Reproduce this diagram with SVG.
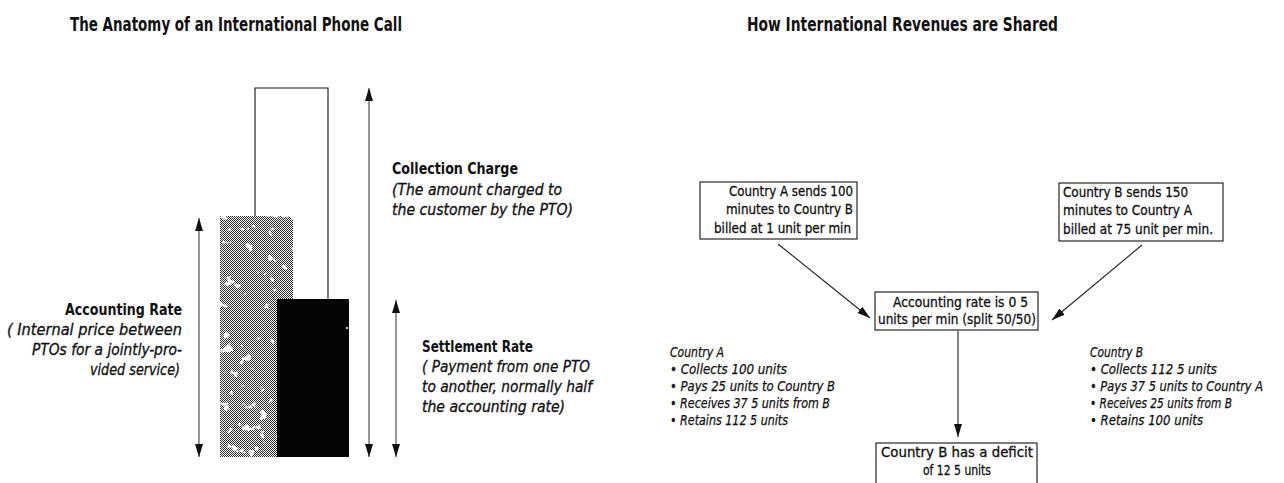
<svg xmlns="http://www.w3.org/2000/svg" width="1284" height="483" viewBox="0 0 1284 483">
  <style>
    text { font-family: "Liberation Sans Narrow", "DejaVu Sans Condensed", "Liberation Sans", sans-serif; fill: #111; }
    .title { font-size: 20px; font-weight: bold; }
    .head { font-size: 15.5px; font-weight: bold; }
    .note { font-size: 15px; font-style: italic; stroke: #111; stroke-width: 0.3; }
    .box { font-size: 14.5px; stroke: #111; stroke-width: 0.3; }
    .list { font-size: 14px; font-style: italic; stroke: #111; stroke-width: 0.25; }
    .frame { fill: #fff; stroke: #111; stroke-width: 1.1; }
    .dim { stroke: #333; stroke-width: 1; fill: none; marker-start: url(#tip); marker-end: url(#tip); }
    .flow { stroke: #222; stroke-width: 1.1; fill: none; marker-end: url(#tip); }
  </style>
  <defs>
    <marker id="tip" viewBox="0 0 13 8" refX="13" refY="4" markerWidth="13" markerHeight="8" markerUnits="userSpaceOnUse" orient="auto-start-reverse">
      <path d="M0,0 L13,4 L0,8 z" fill="#111"/>
    </marker>
    <!-- halftone screen for the shaded bar -->
    <pattern id="screen" width="2" height="2" patternUnits="userSpaceOnUse">
      <rect width="2" height="2" fill="#fff"/>
      <rect width="1" height="1" fill="#2a2a2a"/>
      <rect x="1" y="1" width="1" height="1" fill="#2a2a2a"/>
    </pattern>
    <!-- knocks a few irregular white specks out of the halftone -->
    <filter id="mottle" x="0" y="0" width="100%" height="100%">
      <feTurbulence type="fractalNoise" baseFrequency="0.09" numOctaves="3" seed="7" result="noise"/>
      <feColorMatrix in="noise" type="matrix" values="0 0 0 0 0  0 0 0 0 0  0 0 0 0 0  16 0 0 0 -4.4" result="keep"/>
      <feComposite in="SourceGraphic" in2="keep" operator="in"/>
    </filter>
  </defs>

  <!-- titles -->
  <text class="title" x="70" y="31" textLength="332" lengthAdjust="spacingAndGlyphs">The Anatomy of an International Phone Call</text>
  <text class="title" x="747" y="31" textLength="311" lengthAdjust="spacingAndGlyphs">How International Revenues are Shared</text>

  <!-- left: bar chart of the call price -->
  <g id="accounting-bar">
    <rect x="220" y="216" width="73" height="241" fill="url(#screen)" filter="url(#mottle)"/>
  </g>
  <g id="collection-bar">
    <polyline points="255,216 255,88 328,88 328,299" fill="none" stroke="#111" stroke-width="1.1"/>
  </g>
  <g id="settlement-bar">
    <rect x="277" y="299" width="72" height="158" fill="#050505"/>
    <circle cx="347" cy="328" r="1" fill="#fff"/>
  </g>

  <g id="dimension-arrows">
    <line class="dim" x1="199" y1="218" x2="199" y2="457"/>
    <line class="dim" x1="369" y1="88" x2="369" y2="457"/>
    <line class="dim" x1="396" y1="300" x2="396" y2="457"/>
  </g>

  <g id="accounting-label" text-anchor="end">
    <text class="head" x="182" y="315" textLength="117" lengthAdjust="spacingAndGlyphs">Accounting Rate</text>
    <text class="note" x="182" y="335" textLength="175" lengthAdjust="spacingAndGlyphs">( Internal price between</text>
    <text class="note" x="182" y="355" textLength="150" lengthAdjust="spacingAndGlyphs">PTOs for a jointly-pro-</text>
    <text class="note" x="180" y="375" textLength="90" lengthAdjust="spacingAndGlyphs">vided service)</text>
  </g>
  <g id="collection-label">
    <text class="head" x="392" y="174" textLength="126" lengthAdjust="spacingAndGlyphs">Collection Charge</text>
    <text class="note" x="392" y="195" textLength="170" lengthAdjust="spacingAndGlyphs">(The amount charged to</text>
    <text class="note" x="392" y="215" textLength="181" lengthAdjust="spacingAndGlyphs">the customer by the PTO)</text>
  </g>
  <g id="settlement-label">
    <text class="head" x="422" y="352" textLength="111" lengthAdjust="spacingAndGlyphs">Settlement Rate</text>
    <text class="note" x="422" y="372" textLength="168" lengthAdjust="spacingAndGlyphs">( Payment from one PTO</text>
    <text class="note" x="422" y="392" textLength="170" lengthAdjust="spacingAndGlyphs">to another, normally half</text>
    <text class="note" x="422" y="412" textLength="143" lengthAdjust="spacingAndGlyphs">the accounting rate)</text>
  </g>

  <!-- right: revenue sharing flow -->
  <g id="connectors">
    <line class="flow" x1="778" y1="244" x2="870" y2="318"/>
    <line class="flow" x1="1142" y1="245" x2="1052" y2="320"/>
    <line class="flow" x1="958" y1="331" x2="958" y2="437"/>
  </g>

  <g id="country-a-sends">
    <rect class="frame" x="700" y="182" width="157" height="57"/>
    <g text-anchor="end">
      <text class="box" x="853" y="196" textLength="124" lengthAdjust="spacingAndGlyphs">Country A sends 100</text>
      <text class="box" x="853" y="214" textLength="127" lengthAdjust="spacingAndGlyphs">minutes to Country B</text>
      <text class="box" x="851" y="233" textLength="137" lengthAdjust="spacingAndGlyphs">billed at 1 unit per min</text>
    </g>
  </g>

  <g id="country-b-sends">
    <rect class="frame" x="1059" y="183" width="164" height="58"/>
    <text class="box" x="1063" y="197" textLength="125" lengthAdjust="spacingAndGlyphs">Country B sends 150</text>
    <text class="box" x="1063" y="215" textLength="129" lengthAdjust="spacingAndGlyphs">minutes to Country A</text>
    <text class="box" x="1063" y="234" textLength="150" lengthAdjust="spacingAndGlyphs">billed at  75 unit per min.</text>
  </g>

  <g id="accounting-rate">
    <rect class="frame" x="875" y="292" width="163" height="38"/>
    <text class="box" x="893" y="307" textLength="135" lengthAdjust="spacingAndGlyphs">Accounting rate is 0 5</text>
    <text class="box" x="878" y="324" textLength="158" lengthAdjust="spacingAndGlyphs">units per min  (split 50/50)</text>
  </g>

  <g id="deficit">
    <rect class="frame" x="876" y="443" width="161" height="45"/>
    <text class="box" x="881" y="457" textLength="152" lengthAdjust="spacingAndGlyphs">Country B has a deficit</text>
    <text class="box" x="923" y="475" textLength="68" lengthAdjust="spacingAndGlyphs">of 12 5 units</text>
  </g>

  <g id="country-a-summary">
    <text class="list" x="670" y="357" textLength="54" lengthAdjust="spacingAndGlyphs">Country A</text>
    <text class="list" x="670" y="374" textLength="117" lengthAdjust="spacingAndGlyphs">• Collects 100 units</text>
    <text class="list" x="670" y="391" textLength="165" lengthAdjust="spacingAndGlyphs">• Pays 25 units to Country B</text>
    <text class="list" x="670" y="408" textLength="160" lengthAdjust="spacingAndGlyphs">• Receives 37 5 units from B</text>
    <text class="list" x="670" y="425" textLength="118" lengthAdjust="spacingAndGlyphs">• Retains 112 5 units</text>
  </g>

  <g id="country-b-summary">
    <text class="list" x="1090" y="357" textLength="53" lengthAdjust="spacingAndGlyphs">Country B</text>
    <text class="list" x="1090" y="374" textLength="127" lengthAdjust="spacingAndGlyphs">• Collects 112 5 units</text>
    <text class="list" x="1090" y="391" textLength="173" lengthAdjust="spacingAndGlyphs">• Pays 37 5 units to Country A</text>
    <text class="list" x="1090" y="408" textLength="142" lengthAdjust="spacingAndGlyphs">• Receives 25 units from B</text>
    <text class="list" x="1090" y="425" textLength="113" lengthAdjust="spacingAndGlyphs">• Retains 100 units</text>
  </g>
</svg>
